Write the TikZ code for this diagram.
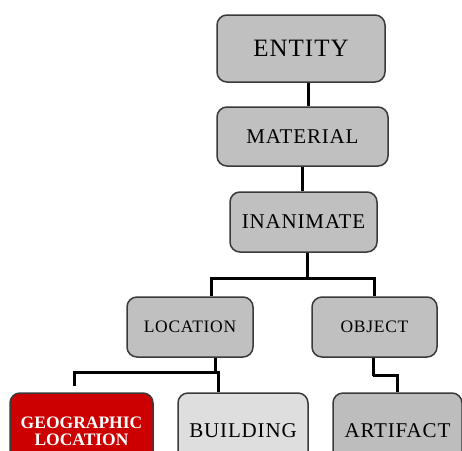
\documentclass[tikz,border=0pt]{standalone}
\usepackage{fontspec}
\setmainfont{Liberation Serif}
\newfontfamily\spacedfont[LetterSpace=4]{Liberation Serif}
\definecolor{boxgray}{HTML}{C0C0C0}
\definecolor{lightgray}{HTML}{DEDEDE}
\definecolor{artgray}{HTML}{BDBDBD}
\definecolor{geored}{HTML}{CC0000}
\definecolor{edgegray}{HTML}{3A3A3A}
\tikzset{
  box/.style={draw=edgegray, line width=1.5pt, rounded corners=10pt, fill=boxgray,
    inner sep=0pt, align=center, text=black},
  link/.style={draw=black, line width=3pt}
}
\begin{document}
\begin{tikzpicture}[x=1pt,y=-1pt]
\useasboundingbox (0,0) rectangle (462,450);
\fill[white] (0,0) rectangle (462,450);
\clip (0,0) rectangle (462,450);
\node[box, minimum width=168pt, minimum height=67pt, font=\spacedfont\fontsize{25}{28}\selectfont] (entity) at (301,48.5) {\raisebox{-3pt}{ENTITY}};
\node[box, minimum width=171pt, minimum height=59pt, font=\spacedfont\fontsize{21}{24}\selectfont] (material) at (302.5,136.5) {MATERIAL};
\node[box, minimum width=147pt, minimum height=60pt, font=\spacedfont\fontsize{21}{24}\selectfont] (inanimate) at (303.5,222) {INANIMATE};
\node[box, minimum width=126pt, minimum height=60pt, font=\spacedfont\fontsize{17.5}{20}\selectfont] (location) at (190,327) {LOCATION};
\node[box, minimum width=125pt, minimum height=60pt, font=\spacedfont\fontsize{17.5}{20}\selectfont] (object) at (374.5,327) {OBJECT};
\node[box, fill=geored, text=white, minimum width=143pt, minimum height=77pt, font=\bfseries\fontsize{17.5}{17}\selectfont] (geo) at (81.5,431.5) {GEOGRAPHIC\\LOCATION};
\node[box, fill=lightgray, minimum width=130pt, minimum height=77pt, font=\spacedfont\fontsize{21}{24}\selectfont] (building) at (243,431.5) {\raisebox{2pt}{BUILDING}};
\node[box, fill=artgray, minimum width=129pt, minimum height=77pt, font=\spacedfont\fontsize{21}{24}\selectfont] (artifact) at (397.5,431.5) {\raisebox{2pt}{ARTIFACT}};
% connectors
\draw[link] ([xshift=7pt]entity.south) -- ([xshift=7pt]entity.south |- material.north);
\draw[link] (material.south) -- (material.south |- inanimate.north);
\draw[link] ([xshift=3.5pt]inanimate.south) -- ++(0,26) coordinate (jinan);
\draw[link] (jinan) -| ([xshift=21pt]location.north);
\draw[link] (jinan) -| (object.north);
\draw[link] ([xshift=25pt]location.south) -- ++(0,15) coordinate (jloc);
\coordinate (geoend) at (74,386);
\draw[link] (jloc) -| (geoend);
\draw[link] (jloc) -| ([xshift=-25pt]building.north);
\draw[link] ([xshift=-1.5pt]object.south) -- ++(0,18) coordinate (jobj);
\draw[link] (jobj) -| (artifact.north);
\end{tikzpicture}
\end{document}
